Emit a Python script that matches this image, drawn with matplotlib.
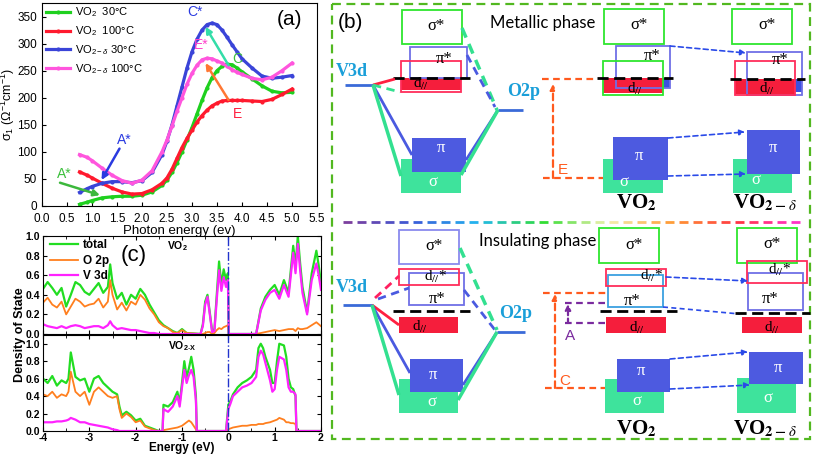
import matplotlib.pyplot as plt
import numpy as np
from matplotlib.patches import Rectangle
from matplotlib.colors import LinearSegmentedColormap

plt.rcParams['font.family'] = ['Liberation Sans', 'DejaVu Sans']
plt.rcParams['mathtext.fontset'] = 'custom'
plt.rcParams['mathtext.rm'] = 'Liberation Sans'
plt.rcParams['mathtext.it'] = 'Liberation Sans:italic'
plt.rcParams['mathtext.bf'] = 'Liberation Sans:bold'

# ---------------- panel (a): optical conductivity ----------------
photon_ev = [0.75, 0.9, 1.0, 1.2, 1.4, 1.6, 1.8, 2.0, 2.2, 2.4, 2.5, 2.6, 2.7, 2.8, 2.9,
             3.0, 3.1, 3.2, 3.3, 3.4, 3.5, 3.6, 3.7, 3.8, 3.9, 4.0, 4.2, 4.4, 4.6, 4.8, 5.0]
sigma_vo2_30 = [3, 7, 10, 15, 17, 18, 18, 20, 26, 38, 48, 62, 80, 100, 122,
                145, 170, 195, 218, 237, 250, 258, 262, 261, 255, 248, 235, 222, 212, 209, 210]
sigma_vo2_100 = [63, 57, 52, 42, 33, 26, 22, 23, 30, 42, 52, 68, 88, 108, 125,
                 140, 155, 167, 177, 185, 190, 194, 195, 195, 195, 195, 194, 193, 197, 206, 216]
sigma_vo2d_30 = [25, 32, 36, 42, 45, 45, 43, 47, 62, 95, 120, 150, 185, 220, 255,
                 285, 308, 325, 335, 338, 335, 325, 312, 298, 285, 272, 255, 240, 236, 238, 241]
sigma_vo2d_100 = [95, 90, 84, 70, 57, 47, 42, 48, 65, 100, 122, 148, 175, 200, 225,
                  245, 260, 270, 273, 272, 268, 264, 258, 252, 247, 243, 236, 233, 238, 250, 264]
labels_a = ['VO$_2$  30°C', 'VO$_2$  100°C', 'VO$_{2-δ}$ 30°C', 'VO$_{2-δ}$ 100°C']

# ---------------- panel (c): density of states ----------------
energy_vo2 = [-4.0, -3.9, -3.8, -3.7, -3.6, -3.5, -3.4, -3.3, -3.2, -3.1, -3.0, -2.9, -2.8,
              -2.7, -2.6, -2.55, -2.5, -2.4, -2.3, -2.2, -2.1, -2.0, -1.9, -1.8, -1.7, -1.6,
              -1.5, -1.4, -1.3, -1.2, -1.1, -1.0, -0.9, -0.6, -0.55, -0.5, -0.45, -0.4, -0.35,
              -0.3, -0.25, -0.2, -0.15, -0.1, -0.05, -0.01, 0.01, 0.6, 0.7, 0.8, 0.9, 1.0,
              1.1, 1.2, 1.3, 1.4, 1.45, 1.5, 1.55, 1.6, 1.7, 1.8, 1.9, 1.95, 2.0]
total_vo2 = [0.46, 0.53, 0.47, 0.40, 0.47, 0.28, 0.40, 0.53, 0.50, 0.43, 0.40, 0.46, 0.52,
             0.42, 0.48, 0.71, 0.52, 0.36, 0.42, 0.30, 0.40, 0.36, 0.46, 0.40, 0.30, 0.22,
             0.14, 0.09, 0.06, 0.03, 0.01, 0.05, 0.01, 0.00, 0.10, 0.33, 0.40, 0.22, 0.03,
             0.05, 0.40, 0.74, 0.50, 0.66, 0.55, 0.62, 0.00, 0.00, 0.26, 0.38, 0.45, 0.50,
             0.40, 0.55, 0.42, 0.90, 0.70, 1.00, 0.72, 0.48, 0.22, 0.62, 0.85, 0.70, 0.52]
o2p_vo2 = [0.32, 0.37, 0.30, 0.27, 0.33, 0.20, 0.28, 0.36, 0.33, 0.28, 0.30, 0.31, 0.36,
           0.27, 0.33, 0.55, 0.40, 0.25, 0.32, 0.24, 0.33, 0.30, 0.40, 0.35, 0.26, 0.20,
           0.12, 0.08, 0.06, 0.02, 0.01, 0.04, 0.01, 0.00, 0.00, 0.01, 0.02, 0.02, 0.00,
           0.01, 0.04, 0.06, 0.05, 0.07, 0.08, 0.09, 0.00, 0.00, 0.01, 0.02, 0.03, 0.04,
           0.03, 0.04, 0.05, 0.05, 0.03, 0.06, 0.05, 0.05, 0.06, 0.09, 0.12, 0.10, 0.08]
v3d_vo2 = [0.10, 0.08, 0.07, 0.06, 0.08, 0.06, 0.08, 0.09, 0.08, 0.06, 0.07, 0.08, 0.08,
           0.06, 0.09, 0.13, 0.09, 0.05, 0.06, 0.05, 0.04, 0.04, 0.03, 0.02, 0.01, 0.01,
           0.00, 0.00, 0.00, 0.00, 0.00, 0.00, 0.00, 0.00, 0.08, 0.30, 0.38, 0.20, 0.02,
           0.03, 0.35, 0.65, 0.44, 0.58, 0.48, 0.55, 0.00, 0.00, 0.24, 0.35, 0.42, 0.45,
           0.36, 0.50, 0.38, 0.83, 0.62, 0.92, 0.65, 0.42, 0.20, 0.55, 0.72, 0.60, 0.45]

energy_vo2x = [-4.0, -3.9, -3.8, -3.7, -3.6, -3.5, -3.45, -3.4, -3.3, -3.2, -3.1, -3.0, -2.9,
               -2.8, -2.7, -2.6, -2.5, -2.4, -2.35, -2.3, -2.2, -2.1, -2.0, -1.9, -1.8, -1.7,
               -1.6, -1.5, -1.42, -1.4, -1.3, -1.2, -1.1, -1.05, -1.0, -0.95, -0.9, -0.85,
               -0.8, -0.75, -0.7, -0.68, -0.05, 0.0, 0.05, 0.1, 0.2, 0.3, 0.4, 0.5, 0.6,
               0.65, 0.7, 0.75, 0.8, 0.9, 0.95, 1.0, 1.05, 1.1, 1.2, 1.25, 1.3, 1.35, 1.4,
               1.45, 1.47, 2.0]
total_vo2x = [0.60, 0.55, 0.63, 0.52, 0.58, 0.55, 0.60, 0.90, 0.62, 0.58, 0.60, 0.45, 0.60,
              0.63, 0.55, 0.50, 0.45, 0.42, 0.28, 0.18, 0.22, 0.18, 0.12, 0.14, 0.06, 0.04,
              0.02, 0.00, 0.00, 0.30, 0.28, 0.33, 0.45, 0.32, 0.55, 0.80, 0.62, 0.72,
              0.85, 0.70, 0.40, 0.00, 0.00, 0.30, 0.35, 0.42, 0.50, 0.55, 0.58, 0.62, 0.70,
              0.95, 1.00, 0.95, 0.85, 0.70, 0.55, 0.55, 0.80, 1.00, 0.98, 0.85, 0.60, 0.50,
              0.48, 0.40, 0.00, 0.00]
o2p_vo2x = [0.42, 0.40, 0.45, 0.38, 0.42, 0.40, 0.45, 0.68, 0.45, 0.40, 0.45, 0.30, 0.45,
            0.50, 0.45, 0.40, 0.38, 0.40, 0.25, 0.15, 0.20, 0.16, 0.10, 0.12, 0.05, 0.03,
            0.01, 0.00, 0.00, 0.01, 0.02, 0.03, 0.04, 0.05, 0.06, 0.08, 0.10, 0.12,
            0.10, 0.06, 0.02, 0.00, 0.00, 0.02, 0.03, 0.04, 0.05, 0.06, 0.06, 0.07, 0.07,
            0.08, 0.08, 0.08, 0.09, 0.10, 0.11, 0.12, 0.13, 0.15, 0.13, 0.10, 0.10, 0.09,
            0.09, 0.08, 0.00, 0.00]
v3d_vo2x = [0.10, 0.10, 0.10, 0.11, 0.11, 0.12, 0.13, 0.15, 0.13, 0.10, 0.10, 0.08, 0.07,
            0.06, 0.05, 0.04, 0.02, 0.01, 0.00, 0.00, 0.00, 0.00, 0.00, 0.00, 0.00, 0.00,
            0.00, 0.00, 0.00, 0.25, 0.22, 0.28, 0.40, 0.28, 0.50, 0.70, 0.55, 0.64,
            0.70, 0.62, 0.35, 0.00, 0.00, 0.25, 0.32, 0.40, 0.45, 0.50, 0.52, 0.55, 0.62,
            0.85, 0.92, 0.88, 0.78, 0.58, 0.45, 0.48, 0.70, 0.85, 0.82, 0.70, 0.50, 0.45,
            0.45, 0.42, 0.00, 0.00]

W, H = 814, 454
fig = plt.figure(figsize=(W / 100, H / 100), dpi=100)

# ---------------- panel (b): band schematic in pixel coordinates ----------------
axb = fig.add_axes([0, 0, 1, 1])
axb.set_xlim(0, W)
axb.set_ylim(H, 0)
axb.axis('off')

GREEN_LINE = '#2ee62e'
BLUE_LINE = '#6f6fe6'
RED_LINE = '#ff2d5a'
RED_FILL = '#f51e3c'
BLUE_FILL = '#4d5ae0'
GREEN_FILL = '#3ee39c'
CYAN_TXT = '#1a9fd9'
ORANGE = '#ff5a1e'
PURPLE = '#7a2a9e'
ARROW_BLUE = '#2a4ae8'
SERIF = ['Liberation Serif', 'DejaVu Serif']


def outline(x0, y0, x1, y1, color, lw=1.3, z=3):
    axb.add_patch(Rectangle((x0, y0), x1 - x0, y1 - y0, fill=False, ec=color, lw=lw, zorder=z))


def filled(x0, y0, x1, y1, color, z=2):
    axb.add_patch(Rectangle((x0, y0), x1 - x0, y1 - y0, fc=color, ec='none', zorder=z))


def seg(p, q, color, lw=2, ls='-', z=4):
    axb.plot([p[0], q[0]], [p[1], q[1]], color=color, lw=lw, ls=ls, zorder=z,
             solid_capstyle='butt', dash_capstyle='butt')


def arrow(p, q, color=ARROW_BLUE, lw=1.2, ls=(0, (3, 2))):
    axb.annotate('', xy=q, xytext=p,
                 arrowprops=dict(arrowstyle='-|>', color=color, lw=lw, ls=ls,
                                 mutation_scale=8, shrinkA=0, shrinkB=0), zorder=6)


def serif_text(x, y, s, size=12, color='black', weight='normal', z=7):
    axb.text(x, y, s, fontsize=size, color=color, fontweight=weight, family=SERIF,
             math_fontfamily='stix', ha='center', va='center', zorder=z)


DPAR = r'd$_{//}$'
DSTAR = r'd$_{//}$*'
VO2_LABEL = r'VO$_\mathbf{2}$'
VO2D_LABEL = r'VO$_{\mathbf{2-}\,\delta}$'

# outer dashed frame
axb.add_patch(Rectangle((332, 4), 478, 435, fill=False, ec='#52b820', lw=1.6,
                        ls=(0, (4, 2.5)), zorder=1))
axb.text(350, 23, '(b)', fontsize=15, ha='center', va='center')
axb.text(543, 23, 'Metallic phase', fontsize=12, family=['Lato', 'DejaVu Sans'],
         ha='center', va='center')
axb.text(538, 241, 'Insulating phase', fontsize=12, family=['Lato', 'DejaVu Sans'],
         ha='center', va='center')

# --- metallic, molecular orbital diagram ---
outline(402, 10, 462, 44, GREEN_LINE)
serif_text(436, 26, 'σ*')
outline(410, 47, 467, 78, BLUE_LINE)
serif_text(444, 59, 'π*')
filled(401, 78, 461, 90, RED_FILL)
outline(401, 61, 461, 92, RED_LINE)
serif_text(421, 84, DPAR, size=11)
seg((393, 78), (470, 78), 'black', lw=2, ls=(0, (4, 2)))
serif_text(352, 71, 'V3d', size=13, color=CYAN_TXT, weight='bold')
serif_text(524, 92, 'O2p', size=13, color=CYAN_TXT, weight='bold')
seg((345, 85), (373, 85), '#3a6ad8', lw=2)
seg((498, 110), (523, 110), '#3a6ad8', lw=2)
filled(401, 159, 461, 193, GREEN_FILL)
filled(412, 138, 466, 172, BLUE_FILL, z=2.5)
serif_text(441, 148, 'π', color='white')
serif_text(433, 182, 'σ', color='white')
seg((373, 85), (412, 155), '#4a5ae0')
seg((373, 85), (401, 176), '#33e090', lw=2.5)
seg((373, 85), (395, 79), '#ff2040')
seg((373, 85), (400, 92), '#33e090', ls=(0, (3, 2)))
seg((498, 110), (466, 160), '#4a5ae0')
seg((498, 110), (461, 175), '#33e090', lw=2.5)
seg((462, 28), (497, 110), '#33e090', lw=2.5, ls=(0, (3, 2)))
seg((467, 55), (495, 107), '#4a5ae0', ls=(0, (3, 2)))

# --- metallic, VO2 ---
outline(604, 9, 664, 44, GREEN_LINE)
serif_text(639, 25, 'σ*')
outline(616, 46, 670, 88, BLUE_LINE)
serif_text(652, 56, 'π*')
filled(603, 78, 663, 93, RED_FILL)
filled(663, 78, 670, 88, '#3a50e0')
outline(603, 61, 663, 95, GREEN_LINE)
serif_text(635, 89, DPAR, size=11)
seg((597, 78), (673, 78), 'black', lw=2, ls=(0, (4, 2)))
filled(603, 159, 663, 193, GREEN_FILL)
filled(613, 137, 668, 180, BLUE_FILL, z=2.5)
serif_text(639, 156, 'π', color='white')
serif_text(624, 182, 'σ', color='white')
serif_text(636, 203, VO2_LABEL, size=15, weight='bold')
# energy E
seg((542, 79), (597, 79), ORANGE, lw=1.6, ls=(0, (3, 2)))
seg((543, 178), (603, 178), ORANGE, lw=1.6, ls=(0, (3, 2)))
arrow((553, 178), (553, 84), color=ORANGE, lw=1.6, ls=(0, (3, 2)))
axb.text(563, 170, 'E', color=ORANGE, fontsize=11, ha='center', va='center')
arrow((670, 46), (746, 53))
arrow((668, 138), (745, 132))
arrow((668, 176), (746, 174))

# --- metallic, VO2-delta ---
outline(732, 9, 792, 44, GREEN_LINE)
serif_text(767, 25, 'σ*')
outline(747, 52, 802, 95, BLUE_LINE)
serif_text(780, 60, 'π*')
filled(735, 79, 795, 94, RED_FILL)
filled(795, 79, 802, 92, '#3a50e0')
outline(735, 61, 795, 95, RED_LINE)
serif_text(767, 89, DPAR, size=11)
seg((730, 79), (805, 79), 'black', lw=2, ls=(0, (4, 2)))
filled(733, 159, 792, 193, GREEN_FILL)
filled(747, 130, 800, 174, BLUE_FILL, z=2.5)
serif_text(773, 148, 'π', color='white')
serif_text(756, 180, 'σ', color='white')
serif_text(765, 203, VO2D_LABEL, size=15, weight='bold')

# --- gradient dashed separator ---
sep_cmap = LinearSegmentedColormap.from_list(
    'sep', ['#7b3f9e', '#3a5ad8', '#22b8f0', '#33dd33', '#f4f0b0', '#ff9933', '#ff3344', '#ff33dd'])
for x0 in np.arange(343, 800, 14):
    seg((x0, 222), (min(x0 + 9, 800), 222), sep_cmap((x0 - 343) / 457), lw=2, z=1)

# --- insulating, molecular orbital diagram ---
outline(399, 230, 459, 264, '#8a8aee')
serif_text(434, 246, 'σ*')
outline(409, 273, 464, 305, BLUE_LINE)
serif_text(437, 299, 'π*')
outline(399, 269, 459, 285, RED_LINE, z=3.5)
serif_text(436, 277, DSTAR, size=11)
seg((393, 311), (470, 311), 'black', lw=2, ls=(0, (4, 2)))
filled(399, 317, 458, 333, RED_FILL)
serif_text(420, 327, DPAR, size=11)
serif_text(352, 287, 'V3d', size=13, color=CYAN_TXT, weight='bold')
serif_text(516, 313, 'O2p', size=13, color=CYAN_TXT, weight='bold')
seg((343, 305), (372, 305), '#3a6ad8', lw=2)
seg((497, 332), (525, 332), '#3a6ad8', lw=2)
filled(399, 379, 458, 413, GREEN_FILL)
filled(410, 359, 463, 392, BLUE_FILL, z=2.5)
serif_text(433, 375, 'π', color='white')
serif_text(432, 402, 'σ', color='white')
seg((372, 305), (399, 325), '#ff2040')
seg((372, 305), (410, 373), '#4a5ae0')
seg((372, 305), (399, 395), '#33e090', lw=2.5)
seg((375, 298), (399, 276), '#ff2060', ls=(0, (3, 2)))
seg((378, 299), (409, 288), '#4a5ae0', ls=(0, (3, 2)))
seg((497, 332), (463, 385), '#4a5ae0')
seg((497, 332), (458, 400), '#33e090', lw=2.5)
seg((464, 290), (495, 330), '#4a5ae0', ls=(0, (3, 2)))
seg((460, 248), (497, 330), '#33e090', lw=2.5, ls=(0, (3, 2)))

# --- insulating, VO2 ---
outline(599, 228, 659, 263, GREEN_LINE)
serif_text(634, 245, 'σ*')
outline(608, 275, 663, 307, '#3aa0e0')
serif_text(632, 301, 'π*')
outline(606, 269, 666, 286, RED_LINE, z=3.5)
serif_text(652, 276, DSTAR, size=11)
seg((600, 311), (677, 311), 'black', lw=2, ls=(0, (4, 2)))
filled(606, 317, 666, 333, RED_FILL)
serif_text(637, 328, DPAR, size=11)
filled(605, 379, 664, 413, GREEN_FILL)
filled(617, 359, 670, 392, BLUE_FILL, z=2.5)
serif_text(641, 371, 'π', color='white')
serif_text(637, 401, 'σ', color='white')
serif_text(636, 429, VO2_LABEL, size=15, weight='bold')
# energy A
seg((565, 303), (608, 303), PURPLE, lw=1.6, ls=(0, (3, 2)))
seg((565, 323), (607, 323), PURPLE, lw=1.6, ls=(0, (3, 2)))
arrow((568, 323), (568, 304), color=PURPLE, lw=1.6, ls=(0, (2, 1.5)))
axb.text(570, 336, 'A', color=PURPLE, fontsize=11, ha='center', va='center')
# energy C
seg((543, 293), (608, 293), ORANGE, lw=1.6, ls=(0, (3, 2)))
seg((545, 388), (605, 388), ORANGE, lw=1.6, ls=(0, (3, 2)))
arrow((555, 388), (555, 294), color=ORANGE, lw=1.6, ls=(0, (3, 2)))
axb.text(565, 381, 'C', color=ORANGE, fontsize=11, ha='center', va='center')
arrow((666, 277), (748, 281))
seg((663, 307), (740, 314), ARROW_BLUE, lw=1.2, ls=(0, (3, 2)))
arrow((670, 359), (748, 352))
arrow((670, 389), (750, 385))

# --- insulating, VO2-delta ---
outline(737, 228, 797, 263, GREEN_LINE)
serif_text(772, 244, 'σ*')
outline(748, 273, 803, 310, BLUE_LINE)
serif_text(770, 299, 'π*')
outline(747, 261, 807, 283, RED_LINE, z=3.5)
serif_text(780, 270, DSTAR, size=11)
seg((735, 313), (810, 313), 'black', lw=2, ls=(0, (4, 2)))
filled(742, 317, 802, 333, RED_FILL)
serif_text(772, 328, DPAR, size=11)
filled(737, 378, 796, 413, GREEN_FILL)
filled(749, 352, 803, 384, BLUE_FILL, z=2.5)
serif_text(778, 368, 'π', color='white')
serif_text(768, 398, 'σ', color='white')
serif_text(765, 429, VO2D_LABEL, size=15, weight='bold')


# ---------------- panel (a) ----------------
def px_axes(left, top, right, bottom):
    return fig.add_axes([left / W, 1 - bottom / H, (right - left) / W, (bottom - top) / H])


axa = px_axes(42, 3, 317, 206)
colors_a = ['#1fd01f', '#ff1a2e', '#3a44d8', '#ff55dd']
series_a = [sigma_vo2_30, sigma_vo2_100, sigma_vo2d_30, sigma_vo2d_100]
for vals, c, lab in zip(series_a, colors_a, labels_a):
    axa.plot(photon_ev, vals, color=c, lw=2.3, marker='o', ms=2, label=lab)
axa.set_xlim(0, 5.5)
axa.set_ylim(0, 375)
axa.set_xticks(np.arange(0, 5.51, 0.5))
axa.set_yticks(np.arange(0, 351, 50))
axa.tick_params(direction='in', labelsize=8.5, length=3, pad=3.5)
axa.tick_params(axis='x', pad=5)
axa.set_xlabel('Photon energy (ev)', fontsize=9.5, labelpad=0)
axa.set_ylabel(r'σ$_1$ (Ω$^{-1}$cm$^{-1}$)', fontsize=9)
# y label anchor is the right edge of the rotated text
axa.yaxis.set_label_coords(-0.092, 0.5)
axa.legend(loc='upper left', bbox_to_anchor=(-0.01, 1.02), frameon=False, fontsize=8,
           handlelength=2.2, handletextpad=0.4, labelspacing=0.45, borderaxespad=0.2)
axa.text(4.95, 345, '(a)', fontsize=15, ha='center', va='center')
axa.text(0.45, 60, 'A*', color='#3cc03c', fontsize=10, ha='center', va='center')
axa.text(1.65, 122, 'A*', color='#2a3ae0', fontsize=10, ha='center', va='center')
axa.text(3.05, 358, 'C*', color='#2a3ae0', fontsize=10, ha='center', va='center')
axa.text(3.18, 298, 'E*', color='#ff44cc', fontsize=10, ha='center', va='center')
axa.text(3.9, 272, 'C', color='#3cc03c', fontsize=10, ha='center', va='center')
axa.text(3.9, 170, 'E', color='#ff2040', fontsize=10, ha='center', va='center')
for (p, q, c) in [((0.36, 43), (1.16, 20), '#3cb83c'), ((1.55, 106), (1.19, 48), '#2a3ae0'),
                  ((3.73, 260), (3.27, 331), '#33dda8'), ((3.73, 196), (3.27, 264), '#ff7733')]:
    axa.annotate('', xy=q, xytext=p,
                 arrowprops=dict(arrowstyle='-|>', color=c, lw=1.8, mutation_scale=9,
                                 shrinkA=0, shrinkB=0))

# ---------------- panel (c) ----------------
axc1 = px_axes(43, 236, 321, 334)
axc2 = px_axes(43, 335, 321, 431)
dos_colors = {'total': '#22dd22', 'O 2p': '#ff7f1e', 'V 3d': '#ff22ff'}
for ax, e, tot, o2p, v3d in [(axc1, energy_vo2, total_vo2, o2p_vo2, v3d_vo2),
                             (axc2, energy_vo2x, total_vo2x, o2p_vo2x, v3d_vo2x)]:
    ax.plot(e, tot, color=dos_colors['total'], lw=1.6, label='total')
    ax.plot(e, o2p, color=dos_colors['O 2p'], lw=1.3, label='O 2p')
    ax.plot(e, v3d, color=dos_colors['V 3d'], lw=1.6, label='V 3d')
    ax.axvline(0, color='#2233cc', lw=1, ls='-.')
    ax.set_xlim(-4, 2)
    ax.set_xticks(np.arange(-4, 2.1, 1))
    ax.set_xticks(np.arange(-4, 2.1, 0.5), minor=True)
    ax.set_yticks(np.arange(0, 1.01, 0.2))
    ax.set_yticklabels(['%.1f' % v for v in np.arange(0, 1.01, 0.2)])
    ax.tick_params(direction='in', labelsize=7.5, length=3, pad=2, top=True, right=True)
    ax.tick_params(which='minor', direction='in', length=2, top=True)
    for lab in ax.get_xticklabels() + ax.get_yticklabels():
        lab.set_fontweight('bold')
axc1.set_ylim(0, 1.0)
axc2.set_ylim(0, 1.1)
axc1.set_xticklabels([])
axc2.set_xticklabels(['-4', '-3', '-2', '-1', '0', '1', '2'], fontweight='bold')
axc2.tick_params(axis='x', pad=1.5)
axc2.set_xlabel('Energy (eV)', fontsize=8.5, fontweight='bold', labelpad=-1)
axc1.legend(loc='upper left', bbox_to_anchor=(0.0, 1.04), frameon=False,
            prop={'weight': 'bold', 'size': 8.5}, handlelength=2.4, handletextpad=0.4,
            labelspacing=0.3, borderaxespad=0.2)
axc1.text(-2.05, 0.8, '(c)', fontsize=16, ha='center', va='center')
axc1.text(-1.1, 0.9, r'$\mathbf{VO_2}$', fontsize=7.5, ha='center', va='center')
axc2.text(-1.0, 0.97, r'$\mathbf{VO_{2\text{-}X}}$', fontsize=7.5, ha='center', va='center')
fig.text(20 / W, 1 - 335 / H, 'Density of State', rotation=90, fontsize=9,
         fontweight='bold', ha='center', va='center')

fig.savefig('out.png', dpi=100)
